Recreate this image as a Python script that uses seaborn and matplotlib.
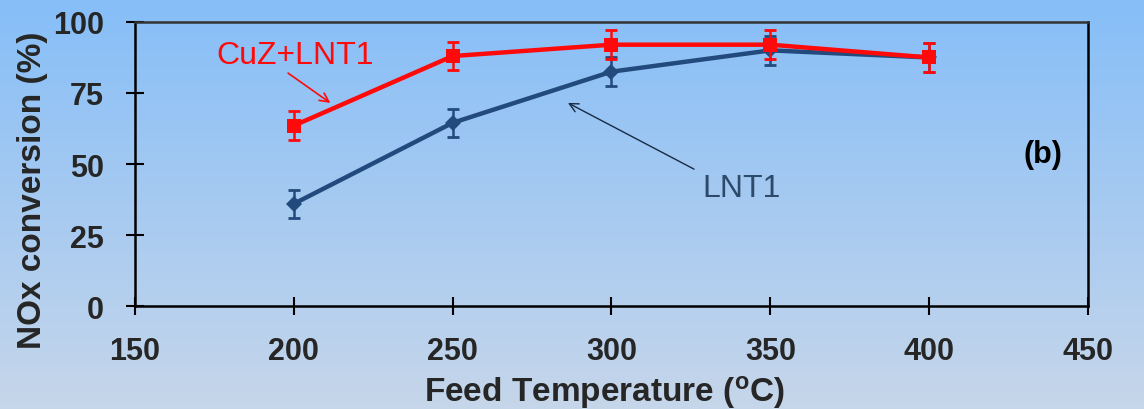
#!/usr/bin/env python3
"""NOx conversion vs feed temperature, CuZ+LNT1 vs LNT1 (panel b)."""

import matplotlib
matplotlib.use("Agg")
import matplotlib.pyplot as plt
import numpy as np
import pandas as pd
import seaborn as sns

temps = [200, 250, 300, 350, 400]
cuz_lnt1 = [63.5, 88.0, 92.0, 92.0, 87.5]
cuz_err = [5, 5, 5, 5, 5]
lnt1 = [36.0, 64.5, 82.5, 90.0, 87.5]
lnt1_err = [5, 5, 5, 5, 5]

x_ticks = [150, 200, 250, 300, 350, 400, 450]
y_ticks = [0, 25, 50, 75, 100]

RED = "#FF0A0A"
BLUE = "#234A7C"

sns.set_theme(style="white")
plt.rcParams["font.family"] = ["Liberation Sans", "DejaVu Sans"]

df = pd.DataFrame({
    "temp": temps * 2,
    "conv": lnt1 + cuz_lnt1,
    "series": ["LNT1"] * len(temps) + ["CuZ+LNT1"] * len(temps),
})

fig = plt.figure(figsize=(11.44, 4.10), dpi=100)

# gradient background behind everything
bg = fig.add_axes([0, 0, 1, 1], zorder=-10)
top = np.array([0x86, 0xBE, 0xF8]) / 255
bot = np.array([0xC6, 0xD6, 0xEA]) / 255
t = np.linspace(0, 1, 256)[:, None]
grad = (top[None, :] * (1 - t) + bot[None, :] * t)[:, None, :]
bg.imshow(grad, aspect="auto", extent=[0, 1, 0, 1])
bg.axis("off")

ax = fig.add_axes([0.118, 0.251, 0.833, 0.693])
ax.set_facecolor("none")

ax.errorbar(temps, lnt1, yerr=lnt1_err, fmt="none", ecolor=BLUE,
            elinewidth=1.8, capsize=4, capthick=2, zorder=3)
ax.errorbar(temps, cuz_lnt1, yerr=cuz_err, fmt="none", ecolor=RED,
            elinewidth=1.8, capsize=4, capthick=2, zorder=5)

sns.lineplot(data=df, x="temp", y="conv", hue="series", style="series",
             hue_order=["LNT1", "CuZ+LNT1"], style_order=["LNT1", "CuZ+LNT1"],
             palette={"LNT1": BLUE, "CuZ+LNT1": RED},
             markers={"LNT1": "D", "CuZ+LNT1": "s"}, dashes=False,
             linewidth=3.2, markersize=10.5, markeredgewidth=0,
             legend=False, ax=ax, zorder=4)
for line in ax.lines:
    if line.get_marker() == "s":
        line.set_zorder(6)
    elif line.get_marker() == "D":
        line.set_markersize(8.5)

ax.set_xlim(150, 450)
ax.set_ylim(0, 100)
ax.set_xticks(x_ticks)
ax.set_yticks(y_ticks)
ax.tick_params(direction="inout", length=13, width=1.5, color="black",
               labelsize=22, bottom=True, left=True, top=False, right=False)
ax.tick_params(axis="y", pad=16)
ax.tick_params(axis="x", pad=15)
for lab in ax.get_xticklabels() + ax.get_yticklabels():
    lab.set_fontweight("bold")
for side in ["left", "right", "top", "bottom"]:
    ax.spines[side].set_color("black")
    ax.spines[side].set_linewidth(1.8)
ax.spines["top"].set_color("#333333")

ax.set_xlabel("Feed Temperature ($\\mathregular{^{o}}$C)", fontsize=24,
              fontweight="bold")
ax.xaxis.set_label_coords(0.493, -0.334)
ax.xaxis.label.set_verticalalignment("baseline")
ax.set_ylabel("NOx conversion (%)", fontsize=24, fontweight="bold")
ax.yaxis.set_label_coords(-0.108, 0.41)
ax.yaxis.label.set_verticalalignment("center")

ax.text(0.168, 0.885, "CuZ+LNT1", transform=ax.transAxes, color=RED,
        fontsize=23, ha="center", va="center")
ax.annotate("", xy=(211.5, 71.5), xytext=(198.2, 82.0),
            arrowprops=dict(arrowstyle="->", color=RED, lw=1.2,
                            mutation_scale=16, shrinkA=0, shrinkB=0))
ax.text(0.637, 0.415, "LNT1", transform=ax.transAxes, color="#2E4A6A",
        fontsize=23, ha="center", va="center")
ax.annotate("", xy=(286.3, 71.5), xytext=(326.0, 48.2),
            arrowprops=dict(arrowstyle="->", color="#1A2A40", lw=1.0,
                            mutation_scale=16, shrinkA=0, shrinkB=0))
ax.text(0.953, 0.535, "(b)", transform=ax.transAxes, color="black",
        fontsize=22, fontweight="bold", ha="center", va="center")

# top of the next panel's tick label, cut off by the frame edge
fig.text(0.072, 0.004, "100", fontsize=22, fontweight="bold",
         ha="center", va="top")

fig.savefig("out.png", dpi=100)
